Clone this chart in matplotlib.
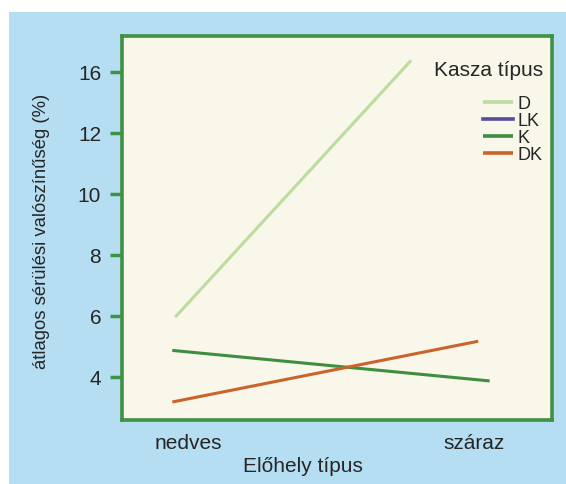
import matplotlib.pyplot as plt
from matplotlib.patches import Rectangle

# Adatok (a kép alapján leolvasva)
categories = ['nedves', 'száraz']
series_names = ['D', 'LK', 'K', 'DK']
series_colors = ['#bcdca0', '#5a4a9c', '#3e8e41', '#c9642c']
d_x = [-0.045, 0.78]
d_y = [5.97, 14.38]
k_x = [-0.055, 1.055]
k_y = [4.88, 3.88]
dk_x = [-0.055, 1.015]
dk_y = [3.19, 5.18]
ytick_values = [4, 6, 8, 10, 12, 14]
ytick_labels = ['4', '6', '8', '10', '12', '16']

plt.rcParams['font.family'] = ['Liberation Sans', 'DejaVu Sans']
text_color = '#262626'
frame_green = '#3f9144'

fig = plt.figure(figsize=(5.66, 4.84), dpi=100)
fig.patch.set_facecolor('white')

# Világoskék háttér
fig.patches.append(Rectangle((9 / 566, 0), 1, 472 / 484, transform=fig.transFigure,
                             facecolor='#b5def3', edgecolor='none', zorder=-10))

ax = fig.add_axes([122 / 566, 64 / 484, 430 / 566, 384 / 484])
ax.set_facecolor('#f8f7e9')

ax.plot(d_x, d_y, color=series_colors[0], lw=2.2, label=series_names[0], solid_capstyle='butt')
ax.plot([], [], color=series_colors[1], lw=2.2, label=series_names[1])
ax.plot(k_x, k_y, color=series_colors[2], lw=2.2, label=series_names[2], solid_capstyle='butt')
ax.plot(dk_x, dk_y, color=series_colors[3], lw=2.2, label=series_names[3], solid_capstyle='butt')

ax.set_xlim(-0.231, 1.273)
ax.set_ylim(2.6, 15.18)

ax.set_xticks([0, 1])
ax.set_xticklabels(categories)
ax.set_yticks(ytick_values)
ax.set_yticklabels(ytick_labels)

ax.tick_params(axis='x', length=0, pad=10, labelsize=15, labelcolor=text_color)
ax.tick_params(axis='y', length=9, width=2.5, color=frame_green, pad=6,
               labelsize=15, labelcolor=text_color)

for spine in ax.spines.values():
    spine.set_color(frame_green)
    spine.set_linewidth(2.6)

ax.set_xlabel('Előhely típus', fontsize=15, color=text_color)
ax.xaxis.set_label_coords(0.42, -0.097)
ax.set_ylabel('átlagos sérülési valószínűség (%)', fontsize=13.3, color=text_color)
ax.yaxis.set_label_coords(-0.168, 0.49)

# Jelmagyarázat címe külön szövegként
ax.text(0.979, 0.91, 'Kasza típus', transform=ax.transAxes, ha='right', va='center',
        fontsize=15, color=text_color)
leg = ax.legend(loc='upper right', bbox_to_anchor=(0.979, 0.845),
                frameon=False, fontsize=13, handlelength=1.7,
                handletextpad=0.25, labelspacing=0.0,
                borderaxespad=0, borderpad=0)
for t in leg.get_texts():
    t.set_color(text_color)
for line in leg.get_lines():
    line.set_linewidth(2.6)

fig.savefig('out.png', dpi=100)
